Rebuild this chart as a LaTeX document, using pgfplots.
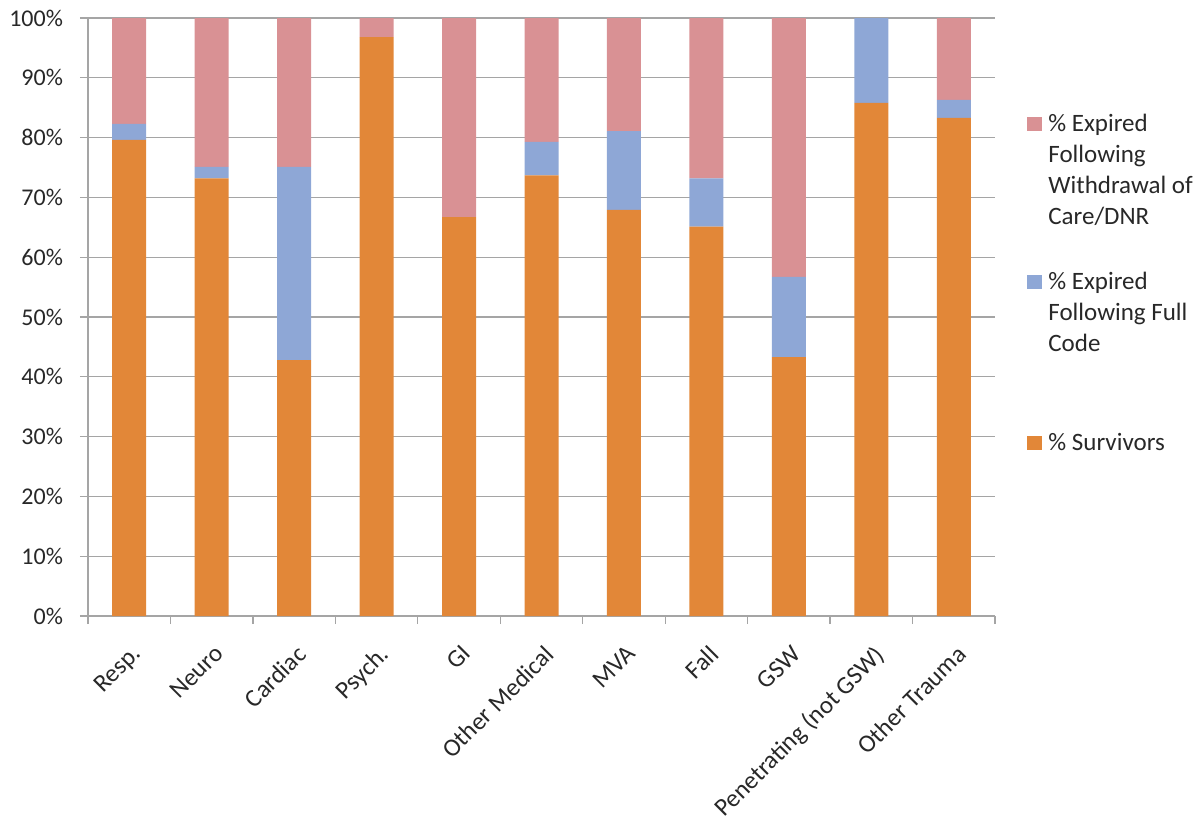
\documentclass[border=0pt]{standalone}
\usepackage{pgfplots}
\pgfplotsset{compat=1.18}
\usepackage{fontspec}
\setmainfont{Carlito}
\definecolor{cSurv}{RGB}{226,135,56}
\definecolor{cFull}{RGB}{142,167,214}
\definecolor{cWith}{RGB}{217,145,148}
\definecolor{cGrid}{RGB}{165,165,165}
\definecolor{cText}{RGB}{40,40,40}

\begin{document}
\begin{tikzpicture}
\path[use as bounding box] (-44pt,-102pt) rectangle (556pt,308pt);
\begin{axis}[
  at={(0,0)}, anchor=south west,
  scale only axis, width=453.5pt, height=299pt,
  ybar stacked, bar width=17pt,
  xmin=-0.5, xmax=10.5, ymin=0, ymax=100,
  xtick={0,...,10},
  xticklabels={Resp., Neuro, Cardiac, Psych., GI, Other Medical, MVA, Fall, GSW, Penetrating (not GSW), Other Trauma},
  minor xtick={-0.5,0.5,...,10.5},
  ytick={0,10,...,100},
  yticklabels={0\%,10\%,20\%,30\%,40\%,50\%,60\%,70\%,80\%,90\%,100\%},
  axis x line=bottom, axis y line=left,
  axis line style={cGrid, -, line width=0.6pt},
  ymajorgrids, grid style={cGrid, line width=0.6pt},
  tick align=outside, major tick length=4pt, minor tick length=4pt,
  major x tick style={draw=none},
  minor x tick style={cGrid, line width=0.6pt},
  major y tick style={cGrid, line width=0.6pt},
  tick label style={font=\fontsize{12}{14}\selectfont, text=cText},
  yticklabel style={xshift=-5pt},
  xticklabel style={rotate=45, anchor=north east, xshift=-3pt, yshift=-4pt,
    font=\fontsize{12.5}{14}\selectfont},
]
% % Survivors
\addplot[fill=cSurv, draw=none] coordinates {
  (0,79.6) (1,73.2) (2,42.8) (3,96.8) (4,66.7) (5,73.7) (6,67.9) (7,65.1) (8,43.3) (9,85.8) (10,83.3)};
% % Expired Following Full Code
\addplot[fill=cFull, draw=none] coordinates {
  (0,2.7) (1,1.9) (2,32.3) (3,0) (4,0) (5,5.6) (6,13.2) (7,8.1) (8,13.4) (9,14.2) (10,3.0)};
% % Expired Following Withdrawal of Care/DNR
\addplot[fill=cWith, draw=none] coordinates {
  (0,17.7) (1,24.9) (2,24.9) (3,3.2) (4,33.3) (5,20.7) (6,18.9) (7,26.8) (8,43.3) (9,0) (10,13.7)};
\end{axis}

% legend, entries spaced evenly like the spreadsheet one
\begin{scope}[every node/.style={anchor=base west, inner sep=0pt, text=cText,
    font=\fontsize{12.5}{15.5}\selectfont}]
\fill[cWith] (469.5pt,242.5pt) rectangle (477pt,249.5pt);
\node at (480pt,242pt) {\parbox[t]{120pt}{\% Expired\\Following\\Withdrawal of\\Care/DNR}};
\fill[cFull] (469.5pt,163.5pt) rectangle (477pt,170.5pt);
\node at (480pt,163pt) {\parbox[t]{120pt}{\% Expired\\Following Full\\Code}};
\fill[cSurv] (469.5pt,83pt) rectangle (477pt,90pt);
\node at (480pt,82.5pt) {\parbox[t]{120pt}{\% Survivors}};
\end{scope}
\end{tikzpicture}
\end{document}
